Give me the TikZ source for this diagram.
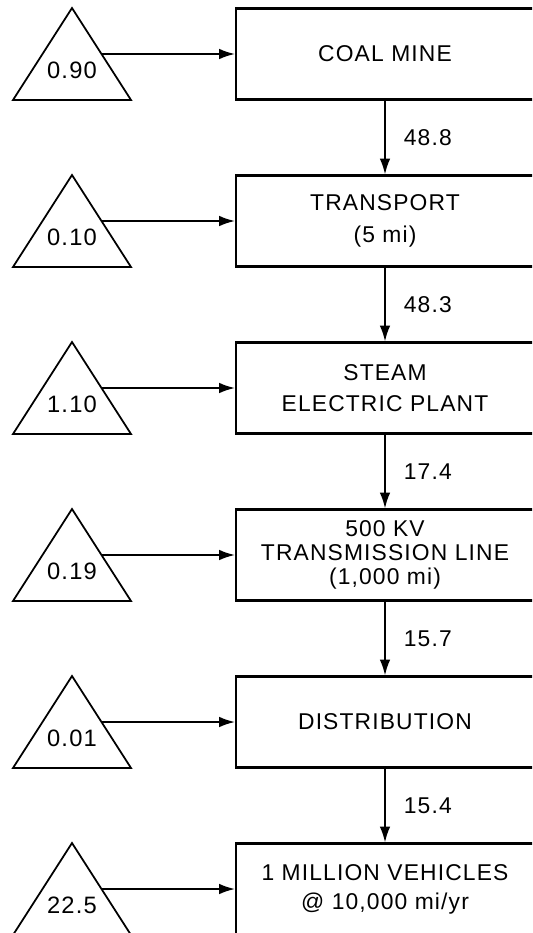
\documentclass[tikz,border=0pt]{standalone}
\usepackage{fontspec}
\newfontfamily\lettering[LetterSpace=5]{Liberation Sans}
\usetikzlibrary{arrows.meta}
\tikzset{
  stage/.style={draw, line width=1.2pt, rectangle, minimum width=5.96cm, minimum height=1.82cm,
    align=center, font=\lettering\fontsize{13}{18}\selectfont},
  cost/.style={draw, line width=1pt, line join=miter},
  costlabel/.style={inner sep=0pt, font=\lettering\fontsize{13.5}{15}\selectfont},
  flowlabel/.style={anchor=west, inner sep=0pt, font=\lettering\fontsize{13}{15}\selectfont},
  flow/.style={line width=1pt, -{Latex[length=9pt,width=6pt]}}
}
\begin{document}
\begin{tikzpicture}[x=0.02cm, y=-0.02cm]
    \useasboundingbox (0,0) rectangle (532,933);
    \clip (0,0) rectangle (532,933);

    % Các khối chuỗi năng lượng
    \node[stage] (mine) at (385,54) {COAL MINE};
    \node[stage] (transport) at (385,221) {TRANSPORT\\(5 mi)};
    \node[stage] (plant) at (385,388) {STEAM\\ELECTRIC PLANT};
    \node[stage, font=\lettering\fontsize{13}{13.8}\selectfont] (line) at (385,555) {500 KV\\TRANSMISSION LINE\\(1,000 mi)};
    \node[stage] (distr) at (385,722) {DISTRIBUTION};
    \node[stage, font=\lettering\fontsize{13}{16.5}\selectfont] (vehicles) at (385,889) {1 MILLION VEHICLES\\@ 10,000 mi/yr};

    % Các tam giác chi phí năng lượng
    \draw[cost] (13,100) -- (72,8) -- (131,100) -- cycle;
    \draw[cost] (13,267) -- (72,175) -- (131,267) -- cycle;
    \draw[cost] (13,434) -- (72,342) -- (131,434) -- cycle;
    \draw[cost] (13,601) -- (72,509) -- (131,601) -- cycle;
    \draw[cost] (13,768) -- (72,676) -- (131,768) -- cycle;
    \draw[cost] (13,935) -- (72,843) -- (131,935) -- cycle;
    \node[costlabel] (c1) at (72,70) {0.90};
    \node[costlabel] (c2) at (72,237) {0.10};
    \node[costlabel] (c3) at (72,404) {1.10};
    \node[costlabel] (c4) at (72,571) {0.19};
    \node[costlabel] (c5) at (72,738) {0.01};
    \node[costlabel] (c6) at (72,905) {22.5};

    % Điểm xuất phát mũi tên trên cạnh phải tam giác
    \coordinate (s1) at (101.5,54);
    \coordinate (s2) at (101.5,221);
    \coordinate (s3) at (101.5,388);
    \coordinate (s4) at (101.5,555);
    \coordinate (s5) at (101.5,722);
    \coordinate (s6) at (101.5,889);
    \draw[flow] (s1) -- (mine);
    \draw[flow] (s2) -- (transport);
    \draw[flow] (s3) -- (plant);
    \draw[flow] (s4) -- (line);
    \draw[flow] (s5) -- (distr);
    \draw[flow] (s6) -- (vehicles);

    % Dòng năng lượng giữa các khối
    \draw[flow] (mine) -- (transport) node[flowlabel, pos=0.5, xshift=0.36cm] {48.8};
    \draw[flow] (transport) -- (plant) node[flowlabel, pos=0.5, xshift=0.36cm] {48.3};
    \draw[flow] (plant) -- (line) node[flowlabel, pos=0.5, xshift=0.36cm] {17.4};
    \draw[flow] (line) -- (distr) node[flowlabel, pos=0.5, xshift=0.36cm] {15.7};
    \draw[flow] (distr) -- (vehicles) node[flowlabel, pos=0.5, xshift=0.36cm] {15.4};
\end{tikzpicture}
\end{document}
